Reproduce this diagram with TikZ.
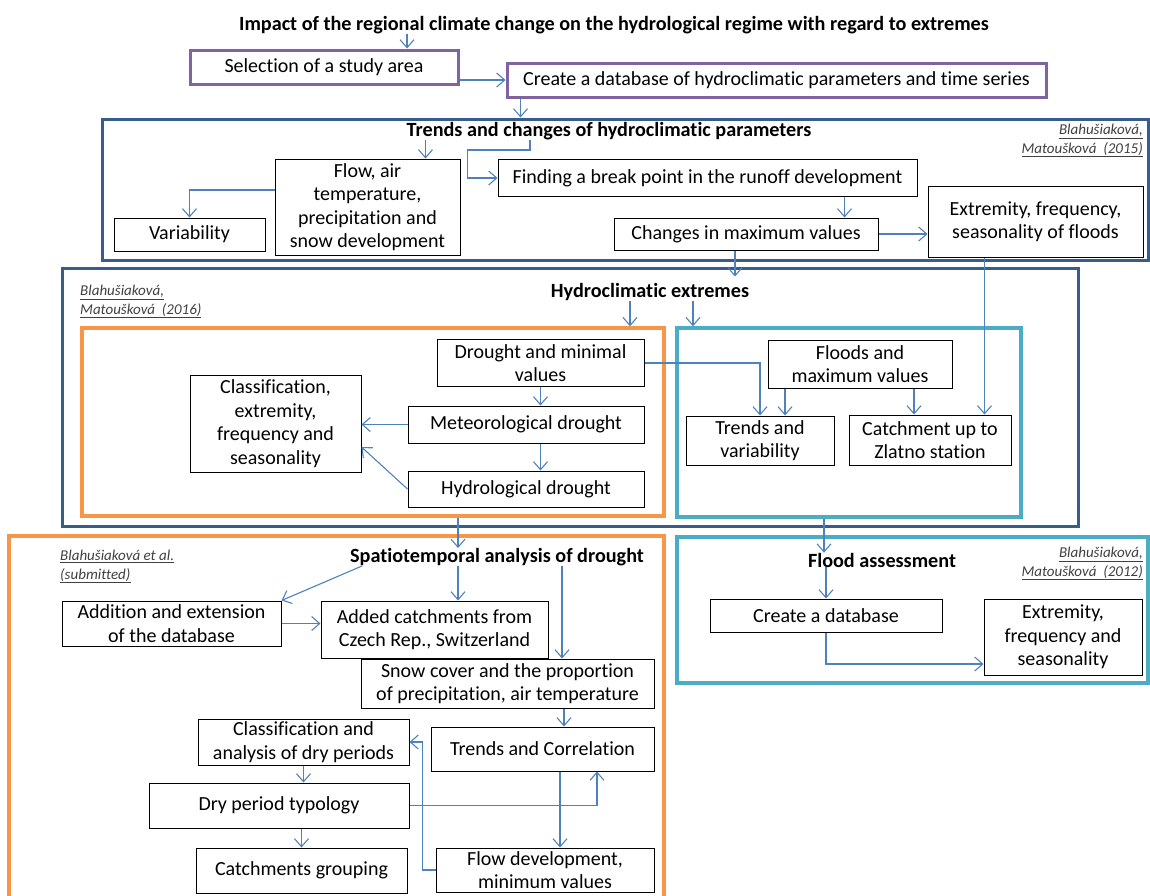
\documentclass[tikz,border=0pt]{standalone}
\usepackage{fontspec}
\setmainfont{Carlito}[Ligatures=NoCommon]
\usetikzlibrary{positioning}
\usetikzlibrary{arrows.meta}
\definecolor{framepurple}{HTML}{8064A2}
\definecolor{framedarkblue}{HTML}{385D8A}
\definecolor{frameorange}{HTML}{F79646}
\definecolor{framecyan}{HTML}{4BACC6}
\definecolor{arrowblue}{HTML}{4F81BD}
\definecolor{citegray}{HTML}{404040}
\tikzset {
        boxnode/.style={align=center, inner sep=0pt, rectangle, draw=black, line width=1pt, fill=white},
        framenode/.style={rectangle, inner sep=0pt, line width=3pt},
        headnode/.style={inner sep=0pt, font=\fontsize{20.2}{23.5}\selectfont\bfseries},
        citenode/.style={inner sep=0pt, font=\fontsize{15}{18.5}\selectfont\itshape, text=citegray},
        link/.style={->, draw=arrowblue, line width=1.1pt}
}
\begin{document}
\begin{tikzpicture}[x=1pt, y=-1pt, >={Straight Barb[length=8pt,width=14pt]},
        every node/.append style={font=\fontsize{20}{23.5}\selectfont}]
            \useasboundingbox (0,0) rectangle (1150,895);
            % frames
            \node[framenode, draw=framedarkblue, minimum width=1046pt, minimum height=141pt] (TrendsFrame) at (625,189.5) {};
            \node[framenode, draw=framedarkblue, minimum width=1016pt, minimum height=258pt] (HydroFrame) at (570,397) {};
            \node[framenode, draw=frameorange, line width=3.5pt, minimum width=582pt, minimum height=188pt] (DroughtFrame) at (373,422) {};
            \node[framenode, draw=framecyan, line width=3.5pt, minimum width=344pt, minimum height=189pt] (FloodsFrame) at (849,422.5) {};
            \node[framenode, draw=frameorange, line width=3.5pt, minimum width=655pt, minimum height=384pt] (SpatioFrame) at (336.5,728) {};
            \node[framenode, draw=framecyan, line width=3.5pt, minimum width=471pt, minimum height=146pt] (AssessFrame) at (912.5,610) {};

            % titles and citations
            \node[headnode] (MainTitle) at (614,25) {Impact of the regional climate change on the hydrological regime with regard to extremes};
            \node[headnode] (TrendsTitle) at (609,131) {Trends and changes of hydroclimatic parameters};
            \node[citenode, anchor=north east, align=right] (CiteA) at (1143,124) {\underline{Blahušiaková,}\\\underline{Matoušková \ (2015)}};
            \node[headnode] (HydroTitle) at (650,292) {Hydroclimatic extremes};
            \node[citenode, anchor=north west, align=left] (CiteB) at (80,285) {\underline{Blahušiaková,}\\\underline{Matoušková \ (2016)}};
            \node[headnode] (SpatioTitle) at (497,557) {Spatiotemporal analysis of drought};
            \node[citenode, anchor=north west, align=left] (CiteC) at (60,550) {\underline{Blahušiaková et al.}\\\underline{(submitted)}};
            \node[headnode] (FloodTitle) at (882,560) {Flood assessment};
            \node[citenode, anchor=north east, align=right] (CiteD) at (1143,547) {\underline{Blahušiaková,}\\\underline{Matoušková \ (2012)}};

            % top row
            \node[boxnode, draw=framepurple, line width=3pt, minimum width=268pt, minimum height=34pt] (StudyArea) at (324,67) {Selection of a study area};
            \node[boxnode, draw=framepurple, line width=3pt, minimum width=539pt, minimum height=34pt] (CreateDB) at (776.5,80) {Create a database of hydroclimatic parameters and time series};

            % trends and changes
            \node[boxnode, minimum width=185pt, minimum height=96pt] (Flow) at (367.5,207) {Flow, air\\temperature,\\precipitation and\\snow development};
            \node[boxnode, minimum width=151pt, minimum height=33pt] (Variability) at (189.5,234.5) {Variability};
            \node[boxnode, minimum width=419pt, minimum height=37pt] (Finding) at (707.5,178) {Finding a break point in the runoff development};
            \node[boxnode, minimum width=264pt, minimum height=32pt] (Changes) at (746,234) {Changes in maximum values};
            \node[boxnode, minimum width=215pt, minimum height=71pt] (Extremity) at (1035.5,221.5) {Extremity, frequency,\\seasonality of floods};

            % hydroclimatic extremes
            \node[boxnode, minimum width=207pt, minimum height=47pt] (Drought) at (540.5,363) {Drought and minimal\\values};
            \node[boxnode, minimum width=236pt, minimum height=37pt] (Meteo) at (526,424.5) {Meteorological drought};
            \node[boxnode, minimum width=236pt, minimum height=36pt] (Hydrol) at (526,489) {Hydrological drought};
            \node[boxnode, minimum width=171pt, minimum height=97pt] (Classif) at (275.5,423.5) {Classification,\\extremity,\\frequency and\\seasonality};
            \node[boxnode, minimum width=184pt, minimum height=48pt] (Floods) at (860,364) {Floods and\\maximum values};
            \node[boxnode, minimum width=148pt, minimum height=49pt] (TrendsVar) at (760,440.5) {Trends and\\variability};
            \node[boxnode, minimum width=162pt, minimum height=50pt] (Catchment) at (930,440) {Catchment up to\\Zlatno station};

            % spatiotemporal analysis
            \node[boxnode, minimum width=219pt, minimum height=45pt] (Addition) at (171.5,623.5) {Addition and extension\\of the database};
            \node[boxnode, minimum width=227pt, minimum height=57pt] (Added) at (434.5,629.5) {Added catchments from\\Czech Rep., Switzerland};
            \node[boxnode, minimum width=293pt, minimum height=49pt] (Snow) at (507.5,683.5) {Snow cover and the proportion\\of precipitation, air temperature};
            \node[boxnode, minimum width=211pt, minimum height=46pt] (ClassifDry) at (303.5,742) {Classification and\\analysis of dry periods};
            \node[boxnode, minimum width=223pt, minimum height=44pt] (TrendsCorr) at (542.5,749) {Trends and Correlation};
            \node[boxnode, minimum width=260pt, minimum height=45pt] (DryType) at (279,805.5) {Dry period typology};
            \node[boxnode, minimum width=211pt, minimum height=45pt] (Grouping) at (301.5,870.5) {Catchments grouping};
            \node[boxnode, minimum width=218pt, minimum height=44pt] (FlowDev) at (545,870) {Flow development,\\minimum values};

            % flood assessment
            \node[boxnode, minimum width=232pt, minimum height=33pt] (CreateDBFlood) at (826,615.5) {Create a database};
            \node[boxnode, minimum width=158pt, minimum height=76pt] (ExtremityFlood) at (1063,637) {Extremity,\\frequency and\\seasonality};

            % connectors
            \draw[link] ([xshift=83pt]StudyArea.north |- MainTitle.south) -- ([xshift=83pt]StudyArea.north);
            \draw[link] (StudyArea.east |- CreateDB.west) -- (CreateDB.west);
            \draw[link] ([xshift=-256pt]CreateDB.south) -- ([xshift=-256pt]CreateDB.south |- TrendsFrame.north);

            \draw[link] ([xshift=58pt]Flow.north |- TrendsTitle.south) -- ([xshift=58pt]Flow.north);
            \draw[link] ([xshift=-177.5pt]Finding.north |- TrendsTitle.south) -- ++(0,10) -| ([xshift=-30pt]Finding.west) -- (Finding.west);
            \draw[link] ([yshift=17pt]Flow.west) -| (Variability.north);
            \draw[link] ([xshift=137pt]Finding.south) -- ([xshift=137pt]Finding.south |- Changes.north);
            \draw[link] (Changes.east) -- (Changes.east -| Extremity.west);
            \draw[link] ([xshift=-11pt]Changes.south) -- ++(0,26);
            \draw[link] ([xshift=-51pt]Extremity.south) -- ([xshift=-51pt]Extremity.south |- Catchment.north);

            \draw[link] ([xshift=-20pt]HydroTitle.south) -- ([xshift=-20pt]HydroTitle.south |- DroughtFrame.north);
            \draw[link] ([xshift=43pt]HydroTitle.south) -- ([xshift=43pt]HydroTitle.south |- FloodsFrame.north);
            \draw[link] (Drought.south) -- (Drought.south |- Meteo.north);
            \draw[link] (Drought.south |- Meteo.south) -- (Drought.south |- Hydrol.north);
            \draw[link] (Meteo.west) -- (Meteo.west -| Classif.east);
            \draw[link] (Hydrol.west) -- ([yshift=-23.5pt]Classif.east);
            \draw[link] (Drought.east) -| (TrendsVar.north);
            \draw[link] ([xshift=-75pt]Floods.south) -- ([xshift=-75pt]Floods.south |- TrendsVar.north);
            \draw[link] ([xshift=54pt]Floods.south) -- ([xshift=54pt]Floods.south |- Catchment.north);

            \draw[link] ([xshift=85pt]DroughtFrame.south) -- ([xshift=85pt]DroughtFrame.south |- SpatioTitle.north);
            \draw[link] ([xshift=-25pt]FloodsFrame.south) -- ([xshift=-25pt]FloodsFrame.south |- FloodTitle.north);

            \draw[link] ([xshift=12pt]SpatioTitle.south west) -- (Addition.north east);
            \draw[link] ([xshift=23.5pt]Added.north |- SpatioTitle.south) -- ([xshift=23.5pt]Added.north);
            \draw[link] ([xshift=54.5pt]Snow.north |- SpatioTitle.south) -- ([xshift=54.5pt]Snow.north);
            \draw[link] (Addition.east) -- (Addition.east -| Added.west);
            \draw[link] ([xshift=56.5pt]Snow.south) -- ([xshift=56.5pt]Snow.south |- TrendsCorr.north);
            \draw[link] (ClassifDry.south) -- (ClassifDry.south |- DryType.north);
            \draw[link] (Grouping.north |- DryType.south) -- (Grouping.north);
            \draw[link] (DryType.east) -| ([xshift=54.5pt]TrendsCorr.south);
            \draw[link] ([xshift=17.5pt]TrendsCorr.south) -- ([xshift=17.5pt]TrendsCorr.south |- FlowDev.north);
            \draw[link] (FlowDev.west) -- ++(-13,0) |- (ClassifDry.east);

            \draw[link] (CreateDBFlood.north |- FloodTitle.south) -- (CreateDBFlood.north);
            \draw[link] (CreateDBFlood.south) |- ([yshift=-27pt]ExtremityFlood.west);
        \end{tikzpicture}
\end{document}
